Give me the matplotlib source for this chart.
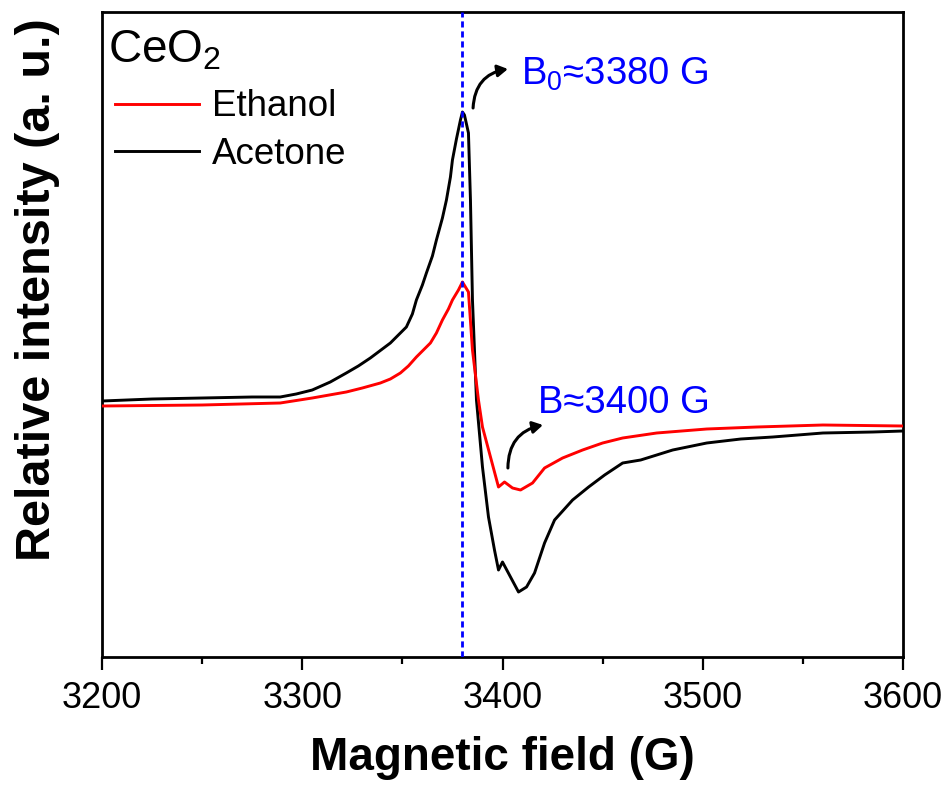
import numpy as np
import matplotlib
matplotlib.use("Agg")
import matplotlib.pyplot as plt

plt.rcParams['font.family'] = ['Liberation Sans', 'DejaVu Sans']
plt.rcParams['mathtext.fontset'] = 'custom'
plt.rcParams['mathtext.rm'] = 'Liberation Sans'
plt.rcParams['mathtext.it'] = 'Liberation Sans:italic'

# Acetone curve (field in G, intensity in a.u.)
field_acetone = [3200, 3225, 3250, 3275, 3289, 3297, 3305, 3314, 3322, 3328, 3334,
                 3340, 3344, 3349, 3352, 3355, 3357, 3360, 3362, 3365, 3367, 3370,
                 3372, 3374, 3375, 3377, 3379, 3380, 3381, 3383, 3384, 3385, 3387,
                 3390, 3393, 3396, 3398, 3400, 3404, 3408, 3412, 3416, 3421, 3426,
                 3435, 3443, 3451, 3460, 3469, 3485, 3502, 3519, 3535, 3560, 3585,
                 3600]
int_acetone = [2.56, 2.58, 2.59, 2.60, 2.60, 2.63, 2.67, 2.75, 2.84, 2.91, 2.99,
               3.08, 3.14, 3.24, 3.30, 3.43, 3.57, 3.72, 3.84, 4.01, 4.17, 4.39,
               4.57, 4.80, 4.97, 5.18, 5.37, 5.45, 5.42, 5.24, 4.57, 3.57, 2.57,
               1.90, 1.40, 1.07, 0.87, 0.95, 0.80, 0.65, 0.70, 0.84, 1.14, 1.37,
               1.57, 1.70, 1.82, 1.94, 1.97, 2.07, 2.14, 2.18, 2.20, 2.24, 2.25,
               2.26]

# Ethanol curve
field_ethanol = [3200, 3250, 3289, 3305, 3322, 3330, 3339, 3344, 3349, 3353, 3357,
                 3360, 3364, 3367, 3370, 3373, 3375, 3378, 3380, 3383, 3385, 3388,
                 3390, 3394, 3398, 3401, 3405, 3409, 3415, 3421, 3430, 3440, 3450,
                 3460, 3477, 3502, 3527, 3560, 3600]
int_ethanol = [2.51, 2.52, 2.54, 2.59, 2.65, 2.69, 2.74, 2.78, 2.84, 2.91, 3.00,
               3.06, 3.14, 3.24, 3.37, 3.48, 3.57, 3.67, 3.75, 3.65, 3.07, 2.57,
               2.30, 2.00, 1.70, 1.75, 1.69, 1.67, 1.74, 1.89, 1.99, 2.07, 2.14,
               2.19, 2.24, 2.28, 2.30, 2.32, 2.31]

b0 = 3380

fig = plt.figure(figsize=(9.5, 7.9), dpi=100)
ax = fig.add_axes([102/950, 1-657/790, 801/950, 645/790])

ax.plot(field_ethanol, int_ethanol, color='#ff0000', lw=2.1, label='Ethanol', zorder=3)
ax.plot(field_acetone, int_acetone, color='black', lw=2.1, label='Acetone', zorder=2)
ax.axvline(b0, color='#0000ff', lw=2, dashes=(2.2, 1.4), zorder=4)

ax.set_xlim(3200, 3600)
ax.set_ylim(0, 6.45)
ax.set_xticks([3200, 3300, 3400, 3500, 3600])
ax.set_xticks(np.arange(3250, 3600, 100), minor=True)
ax.set_yticks([])
ax.tick_params(axis='x', which='major', direction='out', length=9.5, width=1.6,
               labelsize=26, pad=8)
ax.tick_params(axis='x', which='minor', direction='out', length=5, width=1.6)
for s in ax.spines.values():
    s.set_linewidth(2)

ax.set_xlabel('Magnetic field (G)', fontsize=33, fontweight='bold', labelpad=14)
ax.set_ylabel('Relative intensity (a. u.)', fontsize=35, fontweight='bold')
ax.yaxis.set_label_coords(-0.053, 0.569)

ax.text(0.007, 0.975, 'CeO$_2$', transform=ax.transAxes, fontsize=33,
        ha='left', va='top')
ax.legend(loc='upper left', bbox_to_anchor=(0.016, 0.88), frameon=False,
          fontsize=26.5, handlelength=2.3, handletextpad=0.35, borderpad=0,
          borderaxespad=0, labelspacing=0.33)

ax.text(3409.3, 5.72, 'B$_0$≈3380 G', color='#0000ff', fontsize=27.5,
        ha='left', va='baseline')
ax.text(3417.5, 2.44, 'B≈3400 G', color='#0000ff', fontsize=27.5,
        ha='left', va='baseline')

arrow = dict(arrowstyle='-|>,head_length=0.6,head_width=0.35', color='black',
             lw=2.2, connectionstyle='arc3,rad=-0.4', shrinkA=0, shrinkB=0)
ax.annotate('', xy=(3402.7, 5.88), xytext=(3385.3, 5.49), arrowprops=arrow)
ax.annotate('', xy=(3420.2, 2.32), xytext=(3402.7, 1.89), arrowprops=arrow)

fig.savefig('out.png', dpi=100)
